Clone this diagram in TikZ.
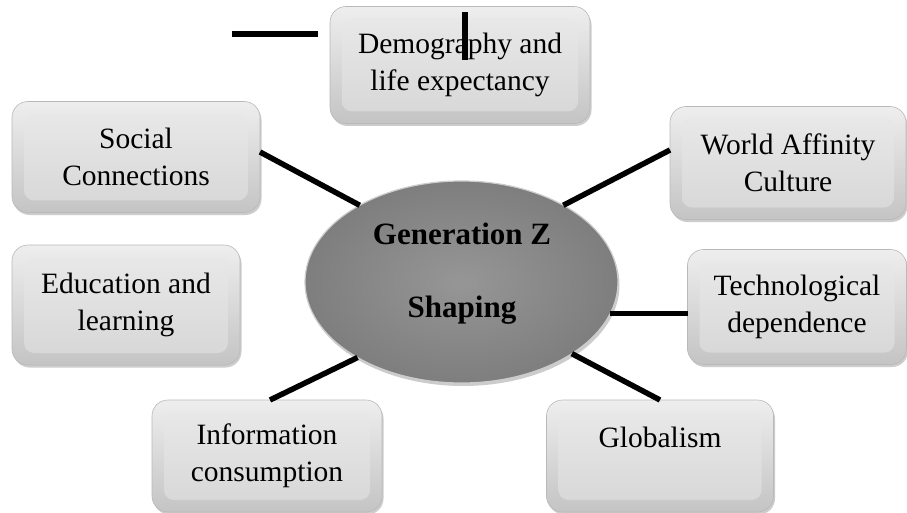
\documentclass[tikz,border=0pt]{standalone}
\usepackage{fontspec}
\setmainfont{Liberation Serif}
\usetikzlibrary{shapes.geometric,shadows}

\definecolor{cardtop}{RGB}{238,238,238}
\definecolor{cardbot}{RGB}{196,196,196}
\definecolor{facetop}{RGB}{234,234,234}
\definecolor{facebot}{RGB}{214,214,214}
\definecolor{coreinner}{RGB}{150,150,150}
\definecolor{coreouter}{RGB}{126,126,126}

\tikzset{
  card/.style={rectangle, rounded corners=16pt, draw=gray!55, line width=0.6pt,
    top color=cardtop, bottom color=cardbot, inner sep=0pt, outer sep=0pt,
    align=center, font=\fontsize{29.5}{37}\selectfont,
    drop shadow={shadow xshift=1.5pt, shadow yshift=-2.5pt, opacity=0.4},
    path picture={\shade[top color=facetop, bottom color=facebot, rounded corners=10pt]
      ([shift={(12pt,-12pt)}]path picture bounding box.north west) rectangle
      ([shift={(-12pt,12pt)}]path picture bounding box.south east);}},
  core/.style={ellipse, minimum width=313pt, minimum height=202pt, inner sep=0pt,
    outer sep=0pt, inner color=coreinner, outer color=coreouter, draw=gray!40,
    line width=1.2pt, drop shadow={shadow xshift=1.5pt, shadow yshift=-3pt, opacity=0.4}},
  corelabel/.style={align=center, font=\fontsize{31}{73}\selectfont\bfseries},
  link/.style={line width=5.5pt, black},
}

\begin{document}
\begin{tikzpicture}[x=1pt,y=-1pt]
  \path[use as bounding box, fill=white] (0,0) rectangle (907,513);

  % central ellipse
  \node[core] (gz) at (461.5,282) {};
  \node[corelabel] (gzlabel) at (462,274) {Generation Z\\Shaping};

  % surrounding topic cards
  \node[card, minimum width=260pt, minimum height=117pt] (demo) at (460,65)
    {Demography and\\life expectancy};
  \node[card, minimum width=248pt, minimum height=111pt] (soc) at (136,157)
    {Social\\Connections};
  \node[card, minimum width=228pt, minimum height=120pt] (edu) at (126,305)
    {Education and\\learning};
  \node[card, minimum width=236pt, minimum height=113pt] (world) at (788,163)
    {World Affinity\\Culture};
  \node[card, minimum width=219pt, minimum height=115pt] (tech) at (797,307)
    {Technological\\dependence};
  \node[card, minimum width=230pt, minimum height=112pt] (info) at (267,456)
    {Information\\consumption};
  \node[card, minimum width=227pt, minimum height=112pt] (glob) at (660,456)
    {Globalism\\\phantom{G}};

  % spokes between the cards and the ellipse
  \draw[link] ([yshift=5pt]soc.east) -- (gz.143);
  \draw[link] ([yshift=13pt]world.west) -- (gz.37);
  \draw[link] (gz.-12.6) -- (gz.-12.6 -| tech.west);
  \draw[link] ([xshift=3pt]info.north) -- (gz.216);
  \draw[link] (glob.north) -- (gz.-33.8);

  % loose strokes near the top card
  \coordinate (hA) at (232,34);
  \coordinate (hB) at (318,34);
  \coordinate (vA) at (465,12);
  \coordinate (vB) at (465,60);
  \draw[link] (hA) -- (hB);
  \draw[link] (vA) -- (vB);
\end{tikzpicture}
\end{document}
